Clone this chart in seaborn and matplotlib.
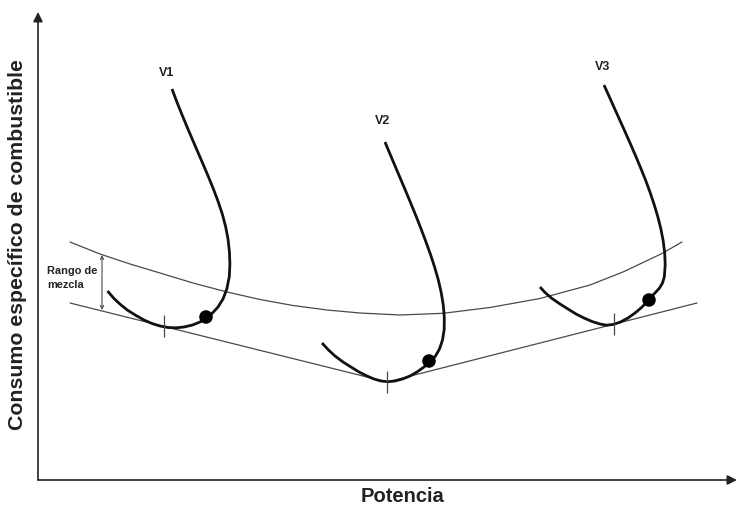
import numpy as np
import pandas as pd
import matplotlib
matplotlib.use("Agg")
import matplotlib.pyplot as plt
import seaborn as sns

# ---------------- data (schematic units: Potencia horizontal, Consumo vertical) ----------------
v1_x = [134, 138.7, 143.7, 148.9, 154.2, 159.6, 165, 170.3, 175.4, 180.1, 184.3, 187.6, 190,
        191.4, 191.9, 191.3, 188.8, 185, 180, 174.5, 168.5, 162, 154.5, 146, 138, 130, 122,
        114, 106, 98, 90, 83, 76, 69.5]
v1_y = [391, 378.5, 366, 353.5, 341, 328.5, 316, 303.5, 291, 278.5, 266, 253.5, 241,
        228.5, 216, 203.5, 191, 181, 173, 167, 162, 158, 155, 153, 152.2, 152.5, 154,
        156.5, 160, 164.5, 169.5, 175, 181.5, 189]

v2_x = [347, 352.2, 357.5, 362.8, 368.1, 373.3, 378.4, 383.3, 388, 392.5, 396.6, 400.2, 403.1,
        405.2, 406.3, 406.2, 404.5, 401.5, 397.5, 392, 386, 379, 372, 364.5, 357, 350, 343,
        336, 329, 321, 313, 305, 297, 290.5, 284]
v2_y = [338, 325.5, 313, 300.5, 288, 275.5, 263, 250.5, 238, 225.5, 213, 200.5, 188,
        175.5, 163, 150.5, 140, 131, 124, 118, 113, 108, 104, 101, 99, 98.3, 99,
        101, 104, 108, 113, 118, 124, 130, 137]

v3_x = [566, 571.4, 576.8, 582.2, 587.6, 592.9, 598.1, 603.1, 607.9, 612.3, 616.3, 619.9, 622.9,
        625.2, 626.7, 627.2, 626.3, 624.5, 621.5, 617, 613, 610.5, 607, 603, 597, 590, 582.5,
        575, 568, 562, 554, 546, 538, 530, 522, 514, 507, 502]
v3_y = [395, 383, 371, 359, 347, 335, 323, 311, 299, 287, 275, 263, 251,
        239, 227, 215, 203, 197, 192, 187, 183, 180, 176, 172, 167, 162, 158,
        155.5, 154.8, 156, 158.5, 162, 166, 171, 176, 181.5, 187.5, 193]

upper_x = [32, 62, 92, 122, 155, 189, 222, 255, 289, 322, 362, 405, 452, 502, 552, 585, 624, 644]
upper_y = [238, 226, 216, 207, 197, 188, 180.5, 174.5, 170, 167, 165, 166.7, 172.5, 181.5,
           195, 208, 226.5, 238]

lower_x = [32, 349, 659]
lower_y = [177, 98, 177]

dot_x = [168, 391, 611]
dot_y = [163, 119, 180]

tick_x = [126, 349, 576]
tick_y = [154, 98, 156]

curve_labels = ["V1", "V2", "V3"]
label_x = [129, 345, 565]
label_y = [407, 359, 413]

rango_x = 64
rango_lo, rango_hi = 170, 225
rango_text = "Rango de\nmezcla"

xlabel = "Potencia"
ylabel = "Consumo específico de combustible"

# ---------------- drawing ----------------
sns.set_theme(style="white")
plt.rcParams["font.family"] = ["Liberation Sans", "DejaVu Sans"]

fig = plt.figure(figsize=(7.38, 5.08), dpi=100)
ax = fig.add_axes([0, 0, 1, 1])
ax.set_xlim(-38, 700)
ax.set_ylim(-28, 480)
ax.axis("off")

thin = "#4a4a4a"
upper = pd.DataFrame({"x": upper_x, "y": upper_y})
lower = pd.DataFrame({"x": lower_x, "y": lower_y})
sns.lineplot(data=upper, x="x", y="y", sort=False, estimator=None, color=thin, lw=0.9, ax=ax)
sns.lineplot(data=lower, x="x", y="y", sort=False, estimator=None, color=thin, lw=0.9, ax=ax)

for cx, cy in [(v1_x, v1_y), (v2_x, v2_y), (v3_x, v3_y)]:
    d = pd.DataFrame({"x": cx, "y": cy})
    sns.lineplot(data=d, x="x", y="y", sort=False, estimator=None, color="#111111",
                 lw=2.0, ax=ax, solid_joinstyle="round", solid_capstyle="butt")

sns.scatterplot(x=dot_x, y=dot_y, s=95, color="black", edgecolor="none", ax=ax, zorder=5)

ax.vlines(tick_x, [t - 11 for t in tick_y], [t + 11 for t in tick_y], color=thin, lw=0.9)

for lab, lx, ly in zip(curve_labels, label_x, label_y):
    ax.text(lx, ly, lab, ha="center", va="center", fontsize=9, fontweight="bold", color="#222222")

ax.annotate("", xy=(rango_x, rango_hi), xytext=(rango_x, rango_lo),
            arrowprops=dict(arrowstyle="<->", color=thin, lw=0.8, mutation_scale=6,
                            shrinkA=0, shrinkB=0))
ax.text(9, 201.5, rango_text, ha="left", va="center", fontsize=7.9, fontweight="bold",
        color="#222222", linespacing=1.5)

# axes with arrows
ax.annotate("", xy=(0, 468), xytext=(0, 0),
            arrowprops=dict(arrowstyle="-|>", color="#222222", lw=1.2, mutation_scale=14,
                            shrinkA=0, shrinkB=0))
ax.annotate("", xy=(699, 0), xytext=(0, 0),
            arrowprops=dict(arrowstyle="-|>", color="#222222", lw=1.2, mutation_scale=14,
                            shrinkA=0, shrinkB=0))

ax.text(365, -17, xlabel, ha="center", va="center", fontsize=14.5, fontweight="bold",
        color="#222222")
ax.text(-20, 235, ylabel, ha="center", va="center", rotation=90, fontsize=15.3,
        fontweight="bold", color="#222222")

fig.savefig("out.png", dpi=100)
